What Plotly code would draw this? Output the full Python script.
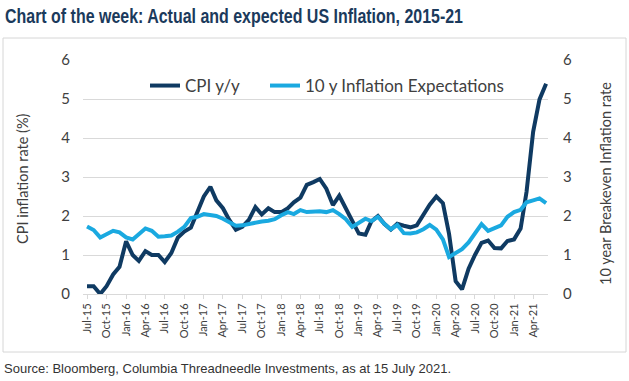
import pandas as pd
import plotly.graph_objects as go

# ---- data ----
months = pd.date_range("2015-07-01", "2021-06-01", freq="MS").strftime("%Y-%m-%d").tolist()

cpi_yy = [0.2, 0.2, 0.0, 0.2, 0.5, 0.7,
          1.35, 1.0, 0.85, 1.1, 1.0, 1.0, 0.82, 1.05, 1.45, 1.6, 1.7, 2.1,
          2.5, 2.75, 2.4, 2.2, 1.9, 1.65, 1.72, 1.9, 2.23, 2.04, 2.2, 2.1,
          2.1, 2.2, 2.35, 2.47, 2.8, 2.87, 2.95, 2.7, 2.28, 2.52, 2.18, 1.9,
          1.55, 1.52, 1.86, 2.0, 1.8, 1.65, 1.8, 1.75, 1.71, 1.76, 2.05, 2.29,
          2.5, 2.33, 1.54, 0.33, 0.12, 0.65, 1.0, 1.31, 1.37, 1.18, 1.17, 1.36,
          1.4, 1.68, 2.62, 4.16, 4.99, 5.39]

breakeven_10y = [1.73, 1.64, 1.45, 1.52, 1.62, 1.58,
                 1.45, 1.40, 1.55, 1.68, 1.62, 1.47, 1.48, 1.50, 1.60, 1.72, 1.95, 1.98,
                 2.05, 2.02, 2.0, 1.93, 1.85, 1.75, 1.76, 1.80, 1.82, 1.86, 1.88, 1.92,
                 2.02, 2.10, 2.05, 2.15, 2.10, 2.12, 2.12, 2.10, 2.15, 2.05, 1.92, 1.72,
                 1.82, 1.93, 1.87, 1.98, 1.80, 1.66, 1.77, 1.56, 1.55, 1.58, 1.66, 1.77,
                 1.65, 1.40, 0.95, 1.06, 1.15, 1.32, 1.56, 1.79, 1.62, 1.69, 1.76, 1.98,
                 2.10, 2.16, 2.35, 2.40, 2.45, 2.33]

y_ticks = [0, 1, 2, 3, 4, 5, 6]

title_text = "Chart of the week: Actual and expected US Inflation, 2015-21"
source_text = "Source: Bloomberg, Columbia Threadneedle Investments, as at 15 July 2021."
left_title = "CPI inflation rate (%)"
right_title = "10 year Breakeven Inflation rate"

DARK = "#0f3a62"
LIGHT = "#1aa9e0"
GRID = "#d9d9d9"
TXT = "#404040"

W, H = 629, 381
L, R, T, B = 83, 548, 60, 294
PW, PH = R - L, B - T


def xp(px):
    return (px - L) / PW


def yp(py):
    return (B - py) / PH


fig = go.Figure()
fig.add_trace(go.Scatter(x=months, y=cpi_yy, name="CPI y/y", mode="lines",
                         line=dict(color=DARK, width=4), yaxis="y", legend="legend"))
fig.add_trace(go.Scatter(x=months, y=breakeven_10y, name="10 y Inflation Expectations",
                         mode="lines", line=dict(color=LIGHT, width=4), yaxis="y2",
                         legend="legend2"))

tick_font = dict(family="Lato, Carlito, sans-serif", size=15, color=TXT)
legend_font = dict(family="Lato, Carlito, sans-serif", size=17, color=TXT)

fig.update_layout(
    width=W, height=H,
    margin=dict(l=L, r=W - R, t=T, b=H - B, pad=0),
    paper_bgcolor="white", plot_bgcolor="white",
    showlegend=True,
    legend=dict(orientation="h", x=xp(145), y=yp(86), xanchor="left", yanchor="middle",
                font=legend_font, bgcolor="rgba(0,0,0,0)"),
    legend2=dict(orientation="h", x=xp(265), y=yp(86), xanchor="left", yanchor="middle",
                 font=legend_font, bgcolor="rgba(0,0,0,0)"),
    xaxis=dict(type="date",
               range=["2015-06-12", "2021-06-10"],
               tick0="2015-07-01", dtick="M3", tickformat="%b-%y",
               tickangle=-90,
               tickfont=dict(family="Lato, Carlito, sans-serif", size=11, color=TXT),
               showgrid=False, showline=True, linecolor=GRID, linewidth=1,
               ticks="outside", ticklen=4, tickcolor=GRID, zeroline=False),
    yaxis=dict(range=[0, 6], tickvals=y_ticks, tickfont=tick_font,
               showgrid=True, gridcolor=GRID, gridwidth=1, zeroline=False,
               showline=False, ticks="", ticklabelstandoff=12),
    yaxis2=dict(range=[0, 6], tickvals=y_ticks, tickfont=tick_font,
                overlaying="y", side="right", showgrid=False, zeroline=False,
                showline=False, ticks="", ticklabelstandoff=14),
    shapes=[
        dict(type="rect", xref="paper", yref="paper",
             x0=xp(3), x1=xp(626), y0=yp(38), y1=yp(352),
             line=dict(color="#d6d6d6", width=1), fillcolor="rgba(0,0,0,0)", layer="below"),
    ],
    annotations=[
        dict(text=title_text, xref="paper", yref="paper", x=xp(3), y=yp(16),
             xanchor="left", yanchor="middle", align="left", showarrow=False,
             font=dict(family="Liberation Sans, Arial, sans-serif", size=20,
                       color="#1b3a5c", weight="bold")),
        dict(text=source_text, xref="paper", yref="paper", x=xp(2), y=yp(368),
             xanchor="left", yanchor="middle", showarrow=False,
             font=dict(family="Liberation Sans, Arial, sans-serif", size=13, color="#333333")),
        dict(text=left_title, xref="paper", yref="paper", x=xp(22), y=yp(178),
             xanchor="center", yanchor="middle", textangle=-90, showarrow=False,
             font=dict(family="Lato, Carlito, sans-serif", size=14.5, color=TXT)),
        dict(text=right_title, xref="paper", yref="paper", x=xp(605), y=yp(184),
             xanchor="center", yanchor="middle", textangle=-90, showarrow=False,
             font=dict(family="Lato, Carlito, sans-serif", size=14.5, color=TXT)),
    ],
)

post = """
document.body.style.margin='0';
document.querySelectorAll('.annotation-text').forEach(function(el){
  var t = el.textContent;
  if (t.indexOf('Chart of the week') === 0) {
    el.setAttribute('textLength', '458');
    el.setAttribute('lengthAdjust', 'spacingAndGlyphs');
  }
});
"""

fig.write_html("out.html", post_script=post, config={"displayModeBar": False})
